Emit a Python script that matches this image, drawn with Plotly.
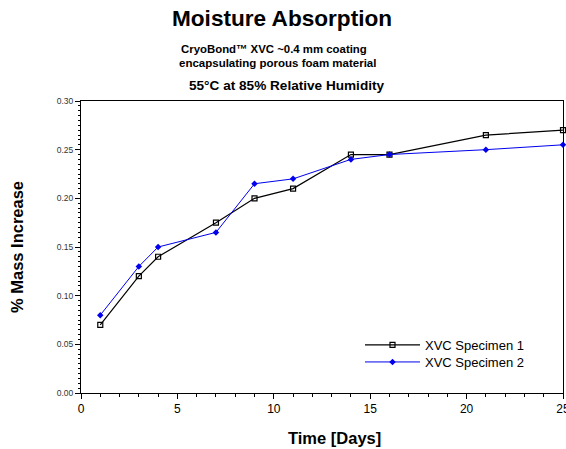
import plotly.graph_objects as go

days1 = [1, 3, 4, 7, 9, 11, 14, 16, 21, 25]
spec1 = [0.07, 0.12, 0.14, 0.175, 0.20, 0.21, 0.245, 0.245, 0.265, 0.27]
days2 = [1, 3, 4, 7, 9, 11, 14, 16, 21, 25]
spec2 = [0.08, 0.13, 0.15, 0.165, 0.215, 0.22, 0.24, 0.245, 0.25, 0.255]

FONT = "Liberation Sans, Arial, sans-serif"

W, H = 566, 449
L, R, T, B = 81, 3, 101, 56
PW, PH = W - L - R, H - T - B


def px(x):
    return (x - L) / PW


def py(y):
    return 1 + (T - y) / PH


fig = go.Figure()
fig.add_trace(go.Scatter(
    x=days1, y=spec1, mode="lines+markers", name="XVC Specimen 1",
    line=dict(color="black", width=1.2),
    marker=dict(symbol="square-open", size=5, color="black", line=dict(width=1.2)),
    cliponaxis=False, legend="legend",
))
fig.add_trace(go.Scatter(
    x=days2, y=spec2, mode="lines+markers", name="XVC Specimen 2",
    line=dict(color="#0000ee", width=1),
    marker=dict(symbol="diamond", size=5, color="#0000ee"),
    cliponaxis=False, legend="legend2",
))

leg_common = dict(xanchor="left", yanchor="middle", bgcolor="rgba(0,0,0,0)",
                  font=dict(size=13, family=FONT), itemwidth=55)

fig.update_layout(
    width=W, height=H,
    margin=dict(l=L, r=R, t=T, b=B),
    paper_bgcolor="white", plot_bgcolor="white",
    font=dict(family=FONT, color="black"),
    showlegend=True,
    legend=dict(x=px(360), y=py(345), **leg_common),
    legend2=dict(x=px(360), y=py(362), **leg_common),
    annotations=[
        dict(text="<b>Moisture Absorption</b>", xref="paper", yref="paper",
             x=px(282), y=py(18), yanchor="middle",
             showarrow=False, font=dict(size=22.6, family=FONT)),
        dict(text="<b>CryoBond™ XVC ~0.4 mm coating</b>", xref="paper", yref="paper",
             x=px(274), y=py(49), yanchor="middle",
             showarrow=False, font=dict(size=11.4, family=FONT)),
        dict(text="<b>encapsulating porous foam material</b>", xref="paper", yref="paper",
             x=px(277), y=py(63), yanchor="middle",
             showarrow=False, font=dict(size=11.5, family=FONT)),
        dict(text="<b>55°C at 85% Relative Humidity</b>", xref="paper", yref="paper",
             x=px(287), y=py(85), yanchor="middle",
             showarrow=False, font=dict(size=13.6, family=FONT)),
        dict(text="<b>Time [Days]</b>", xref="paper", yref="paper",
             x=px(334), y=py(438), yanchor="middle",
             showarrow=False, font=dict(size=16.5, family=FONT)),
    ],
)

fig.update_xaxes(
    range=[0, 25], dtick=5, showgrid=False, zeroline=False,
    showline=True, linecolor="black", linewidth=1, mirror=True,
    ticks="outside", ticklen=5, tickcolor="black",
    minor=dict(dtick=1, ticks="outside", ticklen=3, tickcolor="black"),
    tickfont=dict(size=12, family=FONT),
    ticklabeloverflow="allow",
    automargin=False,
)
fig.update_yaxes(
    range=[0, 0.30], dtick=0.05, tickformat=".2f", showgrid=False, zeroline=False,
    showline=True, linecolor="black", linewidth=1, mirror=True,
    ticks="outside", ticklen=5, tickcolor="black",
    minor=dict(dtick=0.005, ticks="outside", ticklen=2.5, tickcolor="black"),
    tickfont=dict(size=8.5, family=FONT, color="#333333"),
    title=dict(text="<b>% Mass Increase</b>", font=dict(size=16.5, family=FONT), standoff=28),
    automargin=False,
)

fig.write_html("out.html", config={"displayModeBar": False},
               post_script="document.body.style.margin='0';document.body.style.overflow='hidden';")
